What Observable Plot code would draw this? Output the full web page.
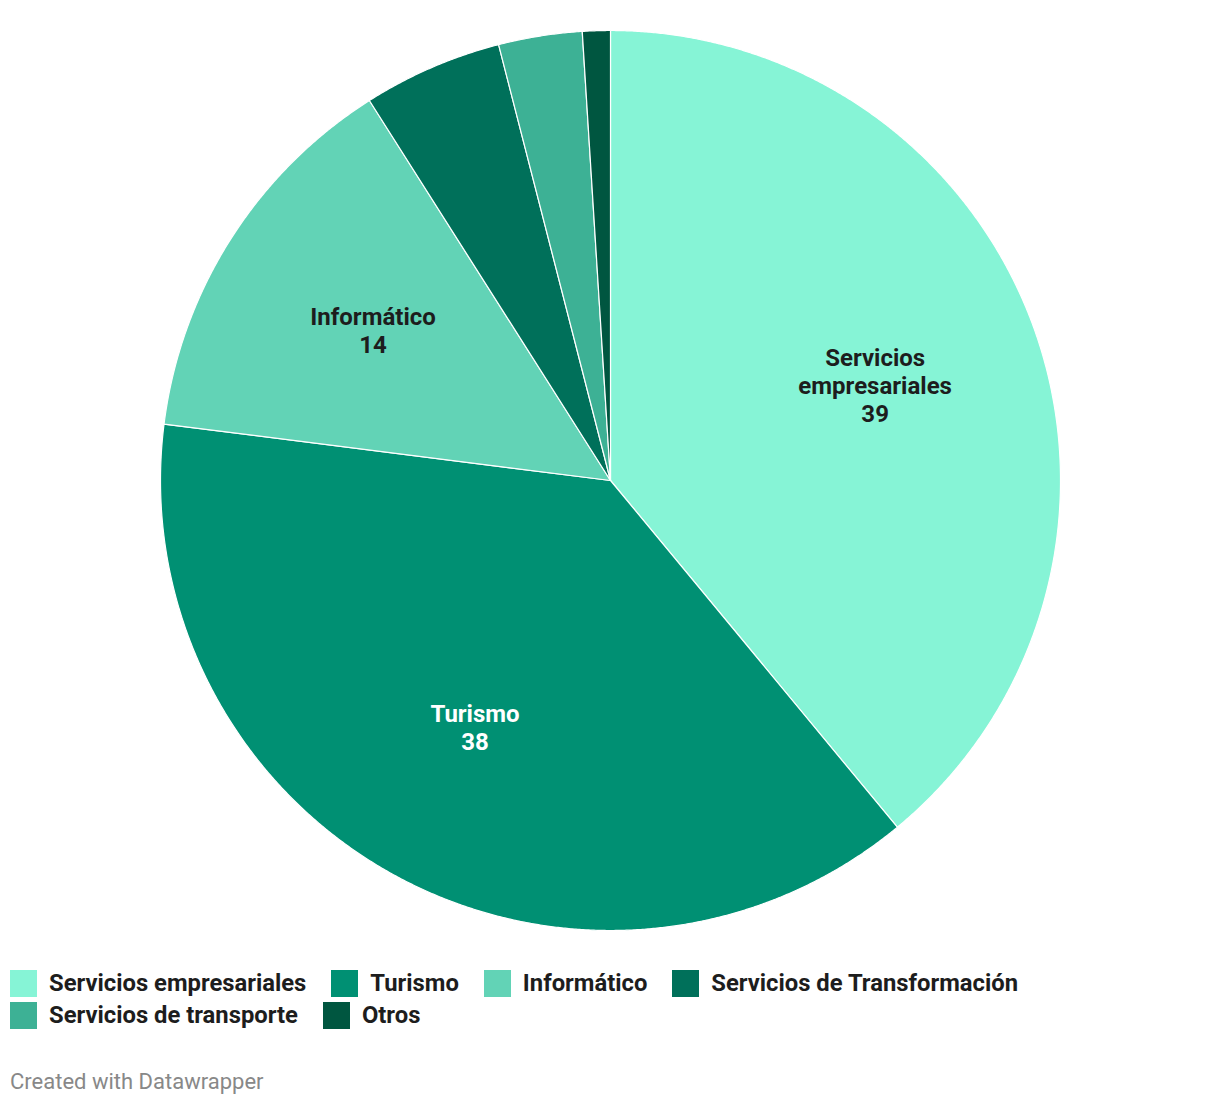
<!DOCTYPE html>
<html>
<head>
<meta charset="utf-8">
<script src="https://cdn.jsdelivr.net/npm/d3@7"></script>
<script src="https://cdn.jsdelivr.net/npm/@observablehq/plot@0.6"></script>
<style>
  body { margin: 0; background: #fff; font-family: Roboto, sans-serif; }
  #wrap { position: relative; width: 1220px; height: 1106px; }
  #legend { position: absolute; left: 10px; top: 969px; width: 1200px; }
  #legend > div { row-gap: 4px; margin: 0 !important; min-height: 0 !important; line-height: 28px; }
  #legend span { margin-right: 25px !important; color: #1d1d1d; }
  #legend svg { margin-right: 12px !important; }
  #footer { position: absolute; left: 10px; top: 1069px; font-size: 22px; line-height: 26px; color: #888; font-family: Roboto, sans-serif; }
</style>
</head>
<body>
<div id="wrap">
  <div id="chart"></div>
  <div id="legend"></div>
  <div id="footer">Created with Datawrapper</div>
</div>
<script>
const categories = ["Servicios empresariales", "Turismo", "Informático", "Servicios de Transformación", "Servicios de transporte", "Otros"];
const values = [39, 38, 14, 5, 3, 1];
const colors = ["#86f4d6", "#009073", "#62d3b6", "#00705a", "#3db195", "#005640"];

const rows = categories.map((c, i) => ({category: c, value: values[i]}));
const arcs = d3.pie().sort(null).value(d => d.value)(rows);

const slices = arcs.map(a => {
  const n = Math.max(2, Math.ceil((a.endAngle - a.startAngle) / 0.004));
  const ring = [[0, 0]];
  for (let i = 0; i <= n; i++) {
    const t = a.startAngle + (a.endAngle - a.startAngle) * i / n;
    ring.push([Math.sin(t), -Math.cos(t)]);
  }
  ring.push([0, 0]);
  return {type: "Feature", properties: {category: a.data.category}, geometry: {type: "Polygon", coordinates: [ring]}};
});

const colorOf = c => colors[categories.indexOf(c)];
const labels = arcs
  .filter(a => a.data.value >= 10)
  .map(a => {
    const m = (a.startAngle + a.endAngle) / 2;
    return {
      category: a.data.category,
      value: a.data.value,
      lx: 0.625 * Math.sin(m),
      ly: -0.625 * Math.cos(m),
      light: d3.lab(colorOf(a.data.category)).l > 60
    };
  });

const textOpts = {
  x: "lx", y: "ly",
  text: d => `${d.category}\n${d.value}`,
  lineWidth: 9,
  lineHeight: 1.16,
  fontSize: 24,
  fontWeight: "bold",
  fontFamily: "Roboto"
};

const chart = Plot.plot({
  width: 1220,
  height: 960,
  marginTop: 30,
  marginBottom: 30,
  marginLeft: 0,
  marginRight: 0,
  style: {fontFamily: "Roboto", background: "#fff"},
  projection: {type: "identity", domain: {type: "MultiPoint", coordinates: [[-1, -1], [1, 1]]}},
  color: {type: "ordinal", domain: categories, range: colors},
  marks: [
    Plot.geo(slices, {fill: d => d.properties.category, stroke: "white", strokeWidth: 1.2}),
    Plot.text(labels, {...textOpts, filter: d => d.light, fill: "#1d1d1d"}),
    Plot.text(labels, {...textOpts, filter: d => !d.light, fill: "white"})
  ]
});
document.getElementById("chart").appendChild(chart);

const legend = chart.legend("color", {
  swatchSize: 27,
  style: {fontFamily: "Roboto", fontSize: "23.8px", fontWeight: "bold", color: "#1d1d1d"}
});
document.getElementById("legend").appendChild(legend);
</script>
</body>
</html>
